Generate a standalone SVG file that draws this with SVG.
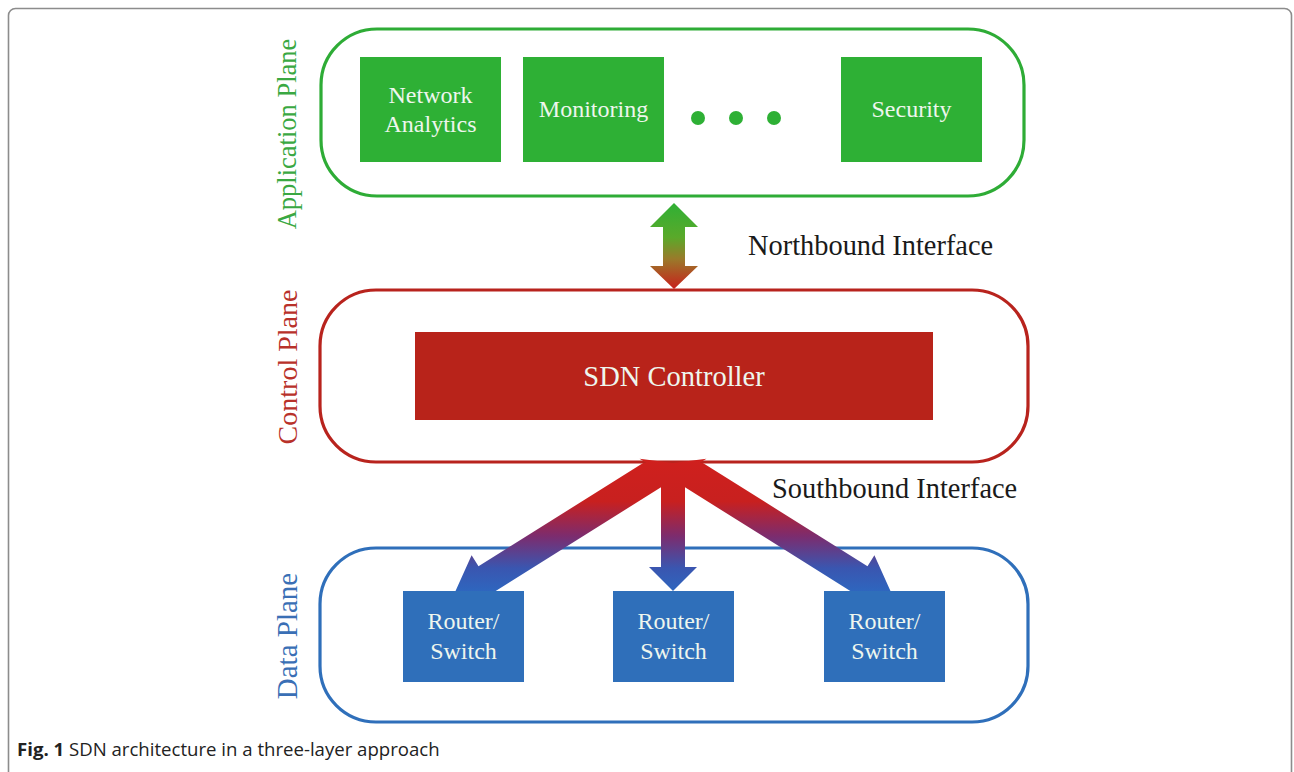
<svg xmlns="http://www.w3.org/2000/svg" width="1294" height="772" viewBox="0 0 1294 772">
<defs>
<style>
.frame{fill:none;stroke:#8c8c8c;stroke-width:1.6}
.plane{fill:#fff;stroke-width:3.2}
.lbl{font-family:"Liberation Serif","Times New Roman",serif;font-size:28px;text-anchor:middle}
.box{font-family:"Liberation Serif","Times New Roman",serif;font-size:24px;fill:#eef6ee;text-anchor:middle}
.iface{font-family:"Liberation Serif","Times New Roman",serif;font-size:28.4px;fill:#1a1a1a}
.cap{font-family:"Open Sans","Noto Sans",sans-serif;font-size:18.6px;fill:#222}
.green{fill:#2eb035}
.blue{fill:#2f6fba}
</style>
<linearGradient id="gNorth" x1="0" y1="203" x2="0" y2="289" gradientUnits="userSpaceOnUse">
<stop offset="0" stop-color="#2fb035"/>
<stop offset="0.4" stop-color="#5aa92a"/>
<stop offset="0.65" stop-color="#9a7a2a"/>
<stop offset="1" stop-color="#c8201c"/>
</linearGradient>
<linearGradient id="gSouth" x1="0" y1="455" x2="0" y2="600" gradientUnits="userSpaceOnUse">
<stop offset="0" stop-color="#d0201d"/>
<stop offset="0.32" stop-color="#c8201f"/>
<stop offset="0.56" stop-color="#7c2c6e"/>
<stop offset="0.78" stop-color="#3a56b0"/>
<stop offset="1" stop-color="#2a6cc4"/>
</linearGradient>
</defs>

<rect class="frame" x="8.5" y="8.5" width="1283" height="800" rx="7"/>

<g id="application-plane">
<rect class="plane" x="321" y="29" width="703" height="167" rx="56" stroke="#2eac36"/>
<text class="lbl" fill="#3aa842" style="font-size:26.5px" transform="translate(296,134) rotate(-90)">Application Plane</text>
</g>
<g id="network-analytics">
<rect class="green" x="360" y="57" width="141" height="105"/>
<text class="box" x="430.5" y="103">Network</text>
<text class="box" x="430.5" y="132">Analytics</text>
</g>
<g id="monitoring">
<rect class="green" x="523" y="57" width="141" height="105"/>
<text class="box" x="593.5" y="117">Monitoring</text>
</g>
<g id="ellipsis">
<circle class="green" cx="698" cy="118" r="7"/>
<circle class="green" cx="736" cy="118" r="7"/>
<circle class="green" cx="774" cy="118" r="7"/>
</g>
<g id="security">
<rect class="green" x="841" y="57" width="141" height="105"/>
<text class="box" x="911.5" y="117">Security</text>
</g>

<g id="control-plane">
<rect class="plane" x="320" y="290" width="708" height="172" rx="56" stroke="#b8231d"/>
<text class="lbl" fill="#b8312a" transform="translate(297,367) rotate(-90)">Control Plane</text>
</g>
<g id="sdn-controller">
<rect x="415" y="332" width="518" height="88" fill="#b8231a"/>
<text class="box" x="674" y="386" style="font-size:28.5px">SDN Controller</text>
</g>

<g id="data-plane">
<rect class="plane" x="320" y="548" width="708" height="174" rx="56" stroke="#2f6fba"/>
<text class="lbl" fill="#3a6fb5" style="font-size:29px" transform="translate(297,636) rotate(-90)">Data Plane</text>
</g>

<g id="connectors">
<polygon fill="url(#gNorth)" points="674,203 698,227 685,227 685,266 698,266 674,289 650,266 663,266 663,227 650,227"/>
<text class="iface" x="748" y="255">Northbound Interface</text>
<polygon fill="url(#gSouth)" points="706.4,458.8 673,463 643.1,463 478.5,566.3 471.6,555.3 450.9,601.3 501.4,602.7 494.5,591.7"/>
<polygon fill="url(#gSouth)" points="639.6,458.8 673,463 702.9,463 867.5,566.3 874.4,555.3 895.1,601.3 844.6,602.7 851.5,591.7"/>
<polygon fill="url(#gSouth)" points="661,463 685,463 685,567 697,567 673,591 649,567 661,567"/>
<text class="iface" x="772" y="498">Southbound Interface</text>
</g>

<g id="router-switch-1">
<rect class="blue" x="403" y="591" width="121" height="91"/>
<text class="box" x="463.5" y="629">Router/</text>
<text class="box" x="463.5" y="659">Switch</text>
</g>
<g id="router-switch-2">
<rect class="blue" x="613" y="591" width="121" height="91"/>
<text class="box" x="673.5" y="629">Router/</text>
<text class="box" x="673.5" y="659">Switch</text>
</g>
<g id="router-switch-3">
<rect class="blue" x="824" y="591" width="121" height="91"/>
<text class="box" x="884.5" y="629">Router/</text>
<text class="box" x="884.5" y="659">Switch</text>
</g>

<text class="cap" x="17" y="756"><tspan font-weight="bold">Fig. 1</tspan> SDN architecture in a three-layer approach</text>
</svg>
